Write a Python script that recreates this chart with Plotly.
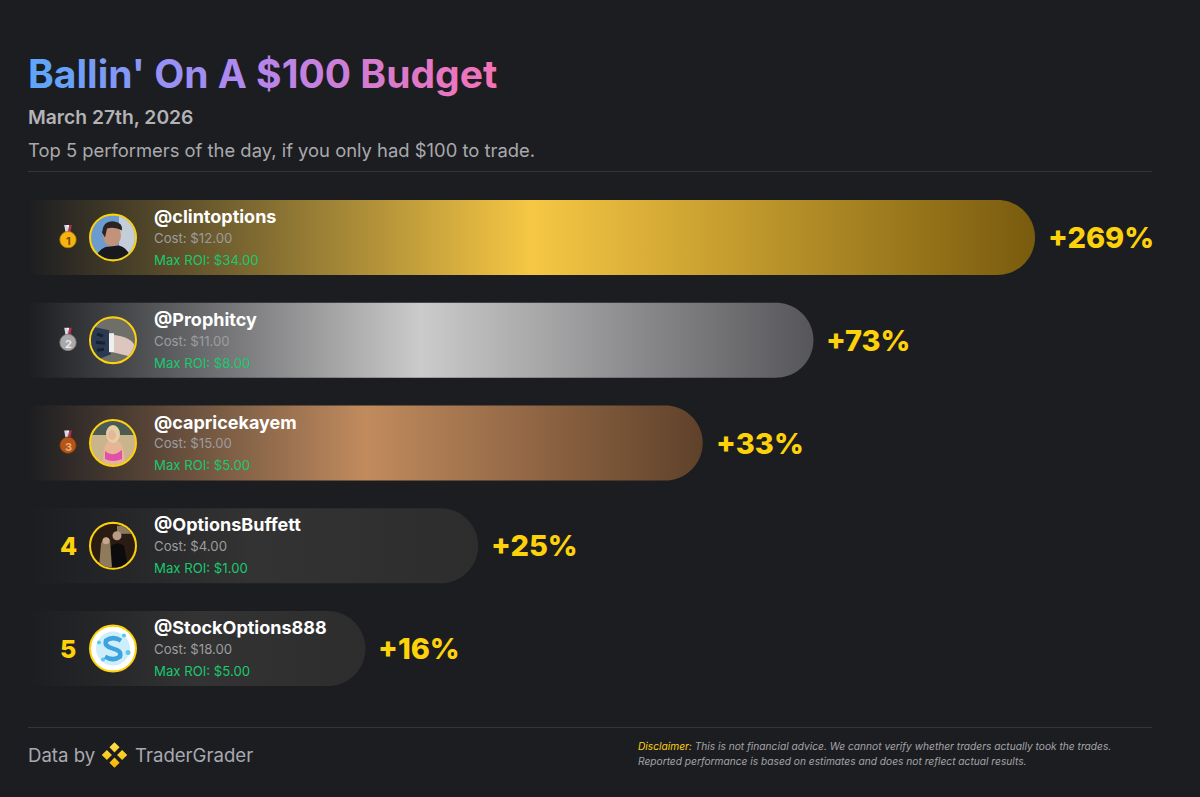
"""
Top 5 performers card, drawn with plotly
"""
import base64
import numpy as np
import plotly.graph_objects as go

W, H = 1200, 797

# Data
ranks = [1, 2, 3, 4, 5]
handles = ['@clintoptions', '@Prophitcy', '@capricekayem', '@OptionsBuffett', '@StockOptions888']
costs = [12.00, 11.00, 15.00, 4.00, 18.00]
max_rois = [34.00, 8.00, 5.00, 1.00, 5.00]
gains = [269, 73, 33, 25, 16]
# bar length as % of the longest bar (the bars are not linear in the gain)
bar_lengths = [100.0, 78.0, 67.0, 44.7, 33.5]

BG = '#1c1d21'
YELLOW = '#fdd20a'
bar_stops = [
    [[0, BG], [0.5, '#f6c744'], [1, '#795b0e']],
    [[0, BG], [0.5, '#cbcbcb'], [1, '#56565a']],
    [[0, BG], [0.5, '#c18b5e'], [1, '#5f412a']],
    [[0, BG], [0.5, '#333333'], [1, '#2d2d2d']],
    [[0, BG], [0.5, '#333333'], [1, '#2d2d2d']],
]
title_stops = [(0, (96, 165, 250)), (0.5, (176, 136, 240)), (1, (244, 114, 182))]

# axes fill the whole figure: 0..100 on x runs over 28..1035 px, rows are about 103 px apart
X_UNIT = (1035 - 28) / 100
ROW0, ROW_STEP = 237.4, 102.8
BAR_H = 37.5


def px_x(p):
    return p / W


def px_y(p):
    return 1 - p / H


def rounded_bar(length, row):
    # bar outline with a round right end, in axis units
    rx = BAR_H / X_UNIT
    ry = BAR_H / ROW_STEP
    t = np.linspace(-np.pi / 2, np.pi / 2, 40)
    xs = np.concatenate([[0], length - rx + rx * np.cos(t), [0, 0]])
    ys = np.concatenate([[row - ry], row + ry * np.sin(t), [row + ry, row - ry]])
    return xs, ys


def gradient_title(text):
    out = ''
    for i, ch in enumerate(text):
        f = i / (len(text) - 1)
        for (a, ca), (b, cb) in zip(title_stops, title_stops[1:]):
            if f <= b:
                m = (f - a) / (b - a)
                col = [round(ca[k] + (cb[k] - ca[k]) * m) for k in range(3)]
                break
        out += f'<span style="color:rgb({col[0]},{col[1]},{col[2]})">{ch}</span>'
    return out


def svg_uri(body, size=44):
    svg = (f'<svg xmlns="http://www.w3.org/2000/svg" viewBox="0 0 {size} {size}">'
           f'<defs><clipPath id="c"><circle cx="{size/2}" cy="{size/2}" r="{size/2}"/></clipPath></defs>'
           f'{body}</svg>')
    return 'data:image/svg+xml;base64,' + base64.b64encode(svg.encode()).decode()


# rough stand-ins for the profile pictures
avatars = [
    '<g clip-path="url(#c)"><rect width="44" height="44" fill="#6c9bd0"/>'
    '<rect x="28" width="16" height="44" fill="#c3ced8"/>'
    '<ellipse cx="21" cy="20" rx="9" ry="11" fill="#c2927a"/>'
    '<path d="M11 17 Q12 5 23 6 Q32 7 31 15 Q24 11 16 13 L14 22 Z" fill="#2a2422"/>'
    '<path d="M4 44 Q8 31 19 31 L28 30 Q38 33 40 44 Z" fill="#17191d"/></g>',
    '<g clip-path="url(#c)"><rect width="44" height="44" fill="#6e6f68"/>'
    '<path d="M0 8 L18 12 L20 36 L0 44 Z" fill="#2a3a52"/>'
    '<path d="M6 16 L12 18 M5 24 L14 25 M6 32 L13 31" stroke="#16202e" stroke-width="3"/>'
    '<path d="M20 16 L30 18 Q44 22 44 30 L38 38 L22 34 Z" fill="#dcc6bd"/>'
    '<rect x="18" y="15" width="5" height="19" fill="#eeeeee"/></g>',
    '<g clip-path="url(#c)"><rect width="44" height="44" fill="#c9b48c"/>'
    '<rect width="44" height="14" fill="#4b5a52"/>'
    '<path d="M12 44 Q12 24 17 20 L28 20 Q34 26 34 44 Z" fill="#e6b596"/>'
    '<ellipse cx="22" cy="13" rx="7" ry="9" fill="#e6cfa2"/>'
    '<ellipse cx="21" cy="14" rx="4" ry="5" fill="#e3b89d"/>'
    '<path d="M14 30 Q21 37 31 29 L31 38 Q22 42 14 38 Z" fill="#e250aa"/></g>',
    '<g clip-path="url(#c)"><rect width="44" height="44" fill="#2a1c12"/>'
    '<rect x="26" y="2" width="14" height="8" fill="#8c7a60"/>'
    '<path d="M19 44 L20 22 Q26 17 33 22 L37 44 Z" fill="#0c0c0e"/>'
    '<circle cx="26" cy="12" r="4.5" fill="#b99a84"/>'
    '<path d="M8 44 L10 20 Q14 10 19 16 L21 44 Z" fill="#8f7a5c"/>'
    '<circle cx="15" cy="17" r="3.5" fill="#c9a58c"/></g>',
    '<g clip-path="url(#c)"><rect width="44" height="44" fill="#ffffff"/>'
    '<circle cx="22" cy="22" r="17" fill="#cfeefb"/>'
    '<circle cx="8" cy="16" r="2" fill="#5cc6f0"/><circle cx="37" cy="26" r="2.5" fill="#5cc6f0"/>'
    '<circle cx="12" cy="33" r="2" fill="#5cc6f0"/><circle cx="33" cy="9" r="2" fill="#5cc6f0"/>'
    '<path d="M30 14 Q22 9 15 14 Q13 20 22 22 Q31 24 29 30 Q22 35 14 30" fill="none" '
    'stroke="#3ba4dc" stroke-width="4.5"/></g>',
]
medals = [('#f5b50f', '#b77f06', '#7a4a00'), ('#a9a9a9', '#808080', '#e8e8e8'), ('#b4561a', '#7a3408', '#e8b078')]
logo = (
    '<defs><linearGradient id="g" x1="0" y1="0" x2="0" y2="1">'
    '<stop offset="0" stop-color="#ffe24a"/><stop offset="1" stop-color="#f7b500"/></linearGradient></defs>'
    '<path d="M22 2 L30 10 L22 18 L14 10 Z M10 14 L18 22 L10 30 L2 22 Z M34 14 L42 22 L34 30 L26 22 Z '
    'M22 26 L30 34 L22 42 L14 34 Z" fill="url(#g)"/>'
)


def medal_svg(face, edge):
    return svg_uri(
        '<path d="M15 1 L21 1 L22 14 L18 17 Z" fill="#d8d8e8"/>'
        '<path d="M29 1 L23 1 L22 14 L26 17 Z" fill="#b03050"/>'
        '<path d="M20 1 L24 1 L22 12 Z" fill="#ffffff"/>'
        f'<circle cx="22" cy="28" r="15" fill="{face}" stroke="{edge}" stroke-width="1.5"/>'
    )


fig = go.Figure()

# Bars
for i, length in enumerate(bar_lengths):
    xs, ys = rounded_bar(length, i)
    fig.add_trace(go.Scatter(
        x=xs, y=ys, mode='none', fill='toself',
        fillgradient=dict(type='horizontal', colorscale=bar_stops[i]),
        name=handles[i], showlegend=False, hoverinfo='skip'))

# Avatar rings
AVATAR_X = (113 - 28) / X_UNIT
fig.add_trace(go.Scatter(
    x=[AVATAR_X] * len(ranks), y=list(range(len(ranks))), mode='markers',
    marker=dict(size=45, color='#222222', line=dict(color=YELLOW, width=3)),
    showlegend=False, hoverinfo='skip'))

images = []
ann = []


def add_text(text, x, y, size, color, weight=400, style='normal', anchor='left', valign='middle'):
    ann.append(dict(text=text, x=px_x(x), y=px_y(y), xref='paper', yref='paper',
                    xanchor=anchor, yanchor=valign, showarrow=False, align='left',
                    borderpad=0, borderwidth=0,
                    font=dict(family='Inter', size=size, color=color, weight=weight, style=style)))


for i in range(len(ranks)):
    cy = ROW0 + ROW_STEP * i
    images.append(dict(source=svg_uri(avatars[i]), xref='paper', yref='paper',
                       x=px_x(113 - 22), y=px_y(cy - 22), sizex=44 / W, sizey=44 / H,
                       sizing='stretch', xanchor='left', yanchor='top', layer='above'))
    add_text(handles[i], 154, cy - 21, 18, '#ffffff', 700)
    add_text(f'Cost: ${costs[i]:.2f}', 154, cy + 0.5, 13.2, '#9c9c9f')
    add_text(f'Max ROI: ${max_rois[i]:.2f}', 154, cy + 22.5, 13.2, '#18c96e')
    if i < 3:
        face, edge, digit = medals[i]
        images.append(dict(source=medal_svg(face, edge), xref='paper', yref='paper',
                           x=px_x(68 - 12), y=px_y(cy - 13), sizex=24 / W, sizey=24 / H,
                           sizing='stretch', xanchor='left', yanchor='top', layer='above'))
        add_text(str(ranks[i]), 68.5, cy + 3.5, 11, digit, 700, anchor='center')
    else:
        add_text(str(ranks[i]), 68, cy + 0.5, 25, YELLOW, 800, anchor='center')
    # gain label hangs off the bar end
    ann.append(dict(text=f'+{gains[i]}%', x=bar_lengths[i], y=i, xref='x', yref='y', xshift=13,
                    xanchor='left', yanchor='middle', showarrow=False, borderpad=0, borderwidth=0,
                    font=dict(family='Inter', size=29, color=YELLOW, weight=800)))

# Header
add_text(gradient_title("Ballin' On A $100 Budget"), 28, 73, 39, '#60a5fa', 700)
add_text('March 27th, 2026', 28, 117, 19.3, '#b3b3b6', 600)
add_text('Top 5 performers of the day, if you only had $100 to trade.', 28, 150, 18.4, '#a9a9ac')

# Footer
add_text('Data by', 28, 755, 18.6, '#a9a9b0')
add_text('TraderGrader', 135, 755, 18.6, '#a9a9b0')
images.append(dict(source=svg_uri(logo), xref='paper', yref='paper',
                   x=px_x(100.5), y=px_y(741), sizex=28 / W, sizey=28 / H,
                   sizing='stretch', xanchor='left', yanchor='top', layer='above'))
add_text(f'<span style="color:{YELLOW}">Disclaimer:</span> This is not financial advice. '
         'We cannot verify whether traders actually took the trades.', 638, 746, 10.2, '#a4a4a7', style='italic')
add_text('Reported performance is based on estimates and does not reflect actual results.',
         638, 761, 10.2, '#a4a4a7', style='italic')

rules = [dict(type='line', xref='paper', yref='paper', x0=px_x(28), x1=px_x(1152),
              y0=px_y(p), y1=px_y(p), line=dict(color='#33353a', width=1)) for p in (171.5, 727.5)]

fig.update_layout(
    width=W, height=H, margin=dict(l=0, r=0, t=0, b=0),
    paper_bgcolor=BG, plot_bgcolor=BG, showlegend=False,
    annotations=ann, images=images, shapes=rules,
    xaxis=dict(range=[-28 / X_UNIT, (W - 28) / X_UNIT], visible=False, fixedrange=True),
    yaxis=dict(range=[(H - ROW0) / ROW_STEP, -ROW0 / ROW_STEP], visible=False, fixedrange=True),
)

fig.write_html('out.html', config=dict(displayModeBar=False),
               post_script="document.body.style.margin='0';")
